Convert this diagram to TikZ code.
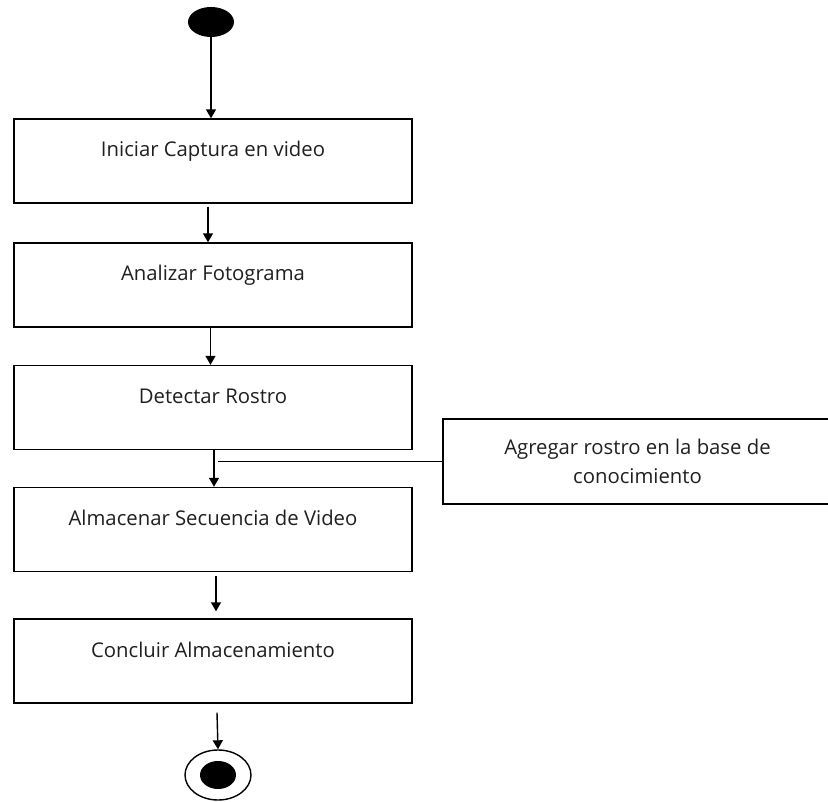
\documentclass[tikz,border=0pt]{standalone}
\usepackage{fontspec}
\setmainfont{Open Sans}
\usetikzlibrary{arrows.meta,shapes.geometric}
\tikzset{
  actbox/.style={draw=black, line width=1.4pt, rectangle, minimum width=398pt,
    inner xsep=0pt, inner ysep=0pt, text height=38pt, text depth=46pt,
    font=\fontsize{20.3}{24}\selectfont, text=black!88},
  sidebox/.style={draw=black, line width=1.4pt, rectangle, minimum width=389pt,
    minimum height=85pt, align=center, inner sep=0pt,
    font=\fontsize{20.3}{29}\selectfont, text=black!88},
  flow/.style={draw=black, line width=1.4pt, -{Triangle[width=10pt,length=9pt]}},
  link/.style={draw=black, line width=1.4pt},
}
\begin{document}
\begin{tikzpicture}[x=1pt, y=-1pt]
  \useasboundingbox (0,0) rectangle (828,802);
  \clip (0,0) rectangle (828,802);

  % initial and final states
  \node[ellipse, fill=black, minimum width=46pt, minimum height=30pt, inner sep=0pt] (start) at (211,22) {};
  \node[ellipse, draw=black, line width=1.4pt, minimum width=66pt, minimum height=50pt, inner sep=0pt] (stop) at (218,775) {};
  \node[ellipse, fill=black, minimum width=36pt, minimum height=28pt, inner sep=0pt] (stopdot) at (218,775) {};

  % activities
  \node[actbox] (b1) at (213,161) {Iniciar Captura en video};
  \node[actbox] (b2) at (213,285) {Analizar Fotograma};
  \node[actbox] (b3) at (213,407.5) {Detectar Rostro};
  \node[actbox] (b4) at (213,529.5) {Almacenar Secuencia de Video};
  \node[actbox] (b5) at (213,661) {Concluir Almacenamiento};

  % side activity, running off the right edge
  \node[sidebox] (side) at (637.5,461.5) {Agregar rostro en la base de\\conocimiento};

  % control flow
  \draw[flow] (start.south) -- ([xshift=-2pt]b1.north);
  \draw[flow] ([xshift=-5pt,yshift=-3pt]b1.south) -- ([xshift=-5pt]b2.north);
  \draw[flow] ([xshift=-2.5pt]b2.south) -- ([xshift=-2.5pt]b3.north);
  \draw[flow] ([xshift=1pt]b3.south) -- ([xshift=1pt]b4.north);
  \coordinate (join) at ([xshift=5pt]b3.south |- side.west);
  \draw[link] (side.west) -- (join);
  \draw[flow] ([xshift=3pt,yshift=-4pt]b4.south) -- ([xshift=3pt,yshift=7pt]b5.north);
  \draw[flow] ([xshift=4pt,yshift=-9pt]b5.south) -- (stop.north);
\end{tikzpicture}
\end{document}
